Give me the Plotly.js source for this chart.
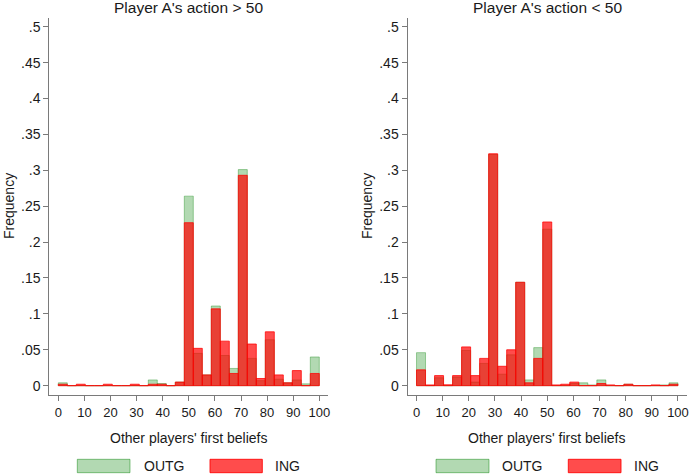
<!DOCTYPE html>
<html>
<head>
<meta charset="utf-8">
<script src="https://cdn.plot.ly/plotly-3.0.1.min.js"></script>
<style>html,body{margin:0;padding:0;background:#fff;}#chart{width:690px;height:475px;}</style>
</head>
<body>
<div id="chart"></div>
<script>
// 29 bins over 0..100 (Stata histogram), heights = frequency per bin
const binCount = 29;
const binWidth = 100 / binCount;

// Panel 1: Player A's action > 50
const outgHigh = [0.004, 0, 0, 0, 0, 0, 0, 0, 0, 0, 0.008, 0.003, 0, 0.005, 0.264, 0.045, 0.015, 0.111, 0.042, 0.024, 0.301, 0.038, 0.007, 0.064, 0.009, 0.004, 0.008, 0.0025, 0.040];
const ingHigh  = [0.002, 0, 0.002, 0, 0, 0.002, 0, 0, 0.002, 0, 0.002, 0.002, 0, 0.005, 0.227, 0.052, 0.015, 0.107, 0.062, 0.017, 0.293, 0.058, 0.010, 0.075, 0.015, 0.004, 0.021, 0, 0.017];

// Panel 2: Player A's action < 50
const outgLow = [0.046, 0, 0.011, 0, 0.012, 0.049, 0.005, 0.031, 0.322, 0.016, 0.043, 0.144, 0.008, 0.053, 0.218, 0, 0, 0.003, 0.004, 0.001, 0.008, 0, 0, 0.002, 0, 0, 0, 0.001, 0.004];
const ingLow  = [0.022, 0.001, 0.014, 0.0012, 0.014, 0.054, 0.014, 0.038, 0.323, 0.027, 0.050, 0.144, 0.004, 0.038, 0.228, 0.001, 0.002, 0.005, 0, 0, 0.003, 0.001, 0, 0.002, 0, 0, 0.001, 0, 0.002];

const panelTitles = ["Player A's action > 50", "Player A's action < 50"];
const xTitle = "Other players' first beliefs";
const yTitle = "Frequency";
const seriesNames = ["OUTG", "ING"];

const xTickVals = [0, 10, 20, 30, 40, 50, 60, 70, 80, 90, 100];
const xTickText = ["0", "10", "20", "30", "40", "50", "60", "70", "80", "90", "100"];
const yTickVals = [0, 0.05, 0.1, 0.15, 0.2, 0.25, 0.3, 0.35, 0.4, 0.45, 0.5];
const yTickText = ["0", ".05", ".1", ".15", ".2", ".25", ".3", ".35", ".4", ".45", ".5"];

const binCenters = outgHigh.map((_, i) => (i + 0.5) * binWidth);

const greenFill = 'rgba(0,128,0,0.30)';
const greenLine = 'rgba(0,128,0,0.35)';
const redFill = 'rgba(255,0,0,0.70)';
const redLine = 'rgba(255,0,0,0.75)';

function barTrace(y, name, fill, line, xa, ya) {
  return {
    type: 'bar', x: binCenters, y: y, name: name, width: binWidth,
    marker: {color: fill, line: {color: line, width: 1}},
    xaxis: xa, yaxis: ya, showlegend: false, hoverinfo: 'x+y'
  };
}

const data = [
  barTrace(outgHigh, seriesNames[0], greenFill, greenLine, 'x', 'y'),
  barTrace(ingHigh, seriesNames[1], redFill, redLine, 'x', 'y'),
  barTrace(outgLow, seriesNames[0], greenFill, greenLine, 'x2', 'y2'),
  barTrace(ingLow, seriesNames[1], redFill, redLine, 'x2', 'y2')
];

const W = 690, H = 475;
const px = v => v / W;
const py = v => 1 - v / H;
const fontFam = 'Arial, "Liberation Sans", sans-serif';
const axisGray = '#7a7a7a';
const textCol = '#1a1a1a';

function xAxis(domain, anchor) {
  return {
    domain: domain, anchor: anchor, range: [-binWidth, 100 + binWidth],
    tickmode: 'array', tickvals: xTickVals, ticktext: xTickText,
    ticks: 'outside', ticklen: 5, tickwidth: 1, tickcolor: axisGray,
    showline: true, linecolor: axisGray, linewidth: 1,
    showgrid: false, zeroline: false,
    tickfont: {family: fontFam, size: 13, color: textCol}
  };
}
function yAxis(anchor) {
  return {
    domain: [py(395), py(18.3)], anchor: anchor, range: [-0.013, 0.5117],
    tickmode: 'array', tickvals: yTickVals, ticktext: yTickText,
    ticks: 'outside', ticklen: 5, tickwidth: 1, tickcolor: axisGray,
    showline: true, linecolor: axisGray, linewidth: 1,
    showgrid: false, zeroline: false,
    tickfont: {family: fontFam, size: 14, color: textCol}
  };
}

const annotations = [];
const shapes = [];
const panels = [
  {cx: 188.8, fx: 9, legend: [[77.3, 130, 141.7], [210, 262.3, 273]]},
  {cx: 547.3, fx: 367, legend: [[436, 489, 500], [568.3, 621, 632]]}
];
panels.forEach((p, k) => {
  annotations.push({xref: 'paper', yref: 'paper', x: px(p.cx), y: py(8), text: panelTitles[k],
    showarrow: false, xanchor: 'center', yanchor: 'middle', font: {family: fontFam, size: 15.5, color: textCol}});
  annotations.push({xref: 'paper', yref: 'paper', x: px(p.cx), y: py(438), text: xTitle,
    showarrow: false, xanchor: 'center', yanchor: 'middle', font: {family: fontFam, size: 14, color: textCol}});
  annotations.push({xref: 'paper', yref: 'paper', x: px(p.fx), y: py(206), text: yTitle, textangle: -90,
    showarrow: false, xanchor: 'center', yanchor: 'middle', font: {family: fontFam, size: 14, color: textCol}});
  const fills = [greenFill, redFill];
  const lines = ['rgba(0,128,0,0.45)', 'rgba(255,0,0,0.85)'];
  p.legend.forEach((L, j) => {
    shapes.push({type: 'rect', xref: 'paper', yref: 'paper', x0: px(L[0]), x1: px(L[1]), y0: py(472.7), y1: py(459.3),
      fillcolor: fills[j], line: {color: lines[j], width: 1}});
    annotations.push({xref: 'paper', yref: 'paper', x: px(L[2]), y: py(466), text: seriesNames[j],
      showarrow: false, xanchor: 'left', yanchor: 'middle', font: {family: fontFam, size: 14, color: textCol}});
  });
});

const layout = {
  width: W, height: H,
  margin: {l: 0, r: 0, t: 0, b: 0},
  paper_bgcolor: '#ffffff', plot_bgcolor: '#ffffff',
  barmode: 'overlay', bargap: 0,
  showlegend: false,
  xaxis: xAxis([px(49.3), px(328.3)], 'y'),
  yaxis: yAxis('x'),
  xaxis2: xAxis([px(407.5), px(687)], 'y2'),
  yaxis2: yAxis('x2'),
  annotations: annotations,
  shapes: shapes
};

Plotly.newPlot('chart', data, layout, {displayModeBar: false, staticPlot: true});
</script>
</body>
</html>
